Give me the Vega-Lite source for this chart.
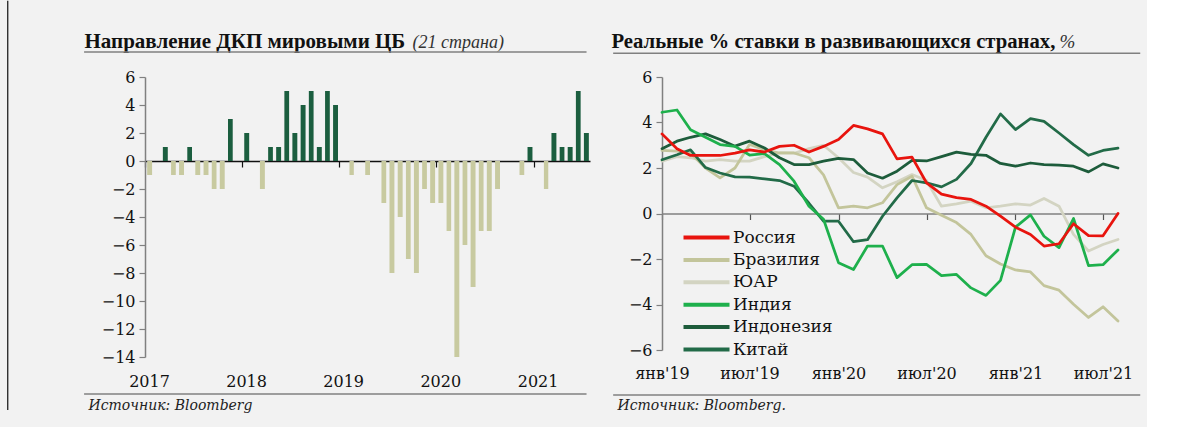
{
  "$schema": "https://vega.github.io/schema/vega-lite/v6.json",
  "background": "#f2f2f2",
  "padding": {"left": 7, "top": 0, "right": 6, "bottom": 15},
  "config": {"view": {"stroke": null}, "font": "DejaVu Serif"},
  "bounds": "flush",
  "spacing": 72,
  "hconcat": [
    {
      "width": 445,
      "height": 280,
      "layer": [
        {
          "data": {"values": [
            {"m": "2017-01-01T00:00:00", "v": -1},
            {"m": "2017-03-01T00:00:00", "v": 1},
            {"m": "2017-04-01T00:00:00", "v": -1},
            {"m": "2017-05-01T00:00:00", "v": -1},
            {"m": "2017-06-01T00:00:00", "v": 1},
            {"m": "2017-07-01T00:00:00", "v": -1},
            {"m": "2017-08-01T00:00:00", "v": -1},
            {"m": "2017-09-01T00:00:00", "v": -2},
            {"m": "2017-10-01T00:00:00", "v": -2},
            {"m": "2017-11-01T00:00:00", "v": 3},
            {"m": "2018-01-01T00:00:00", "v": 2},
            {"m": "2018-03-01T00:00:00", "v": -2},
            {"m": "2018-04-01T00:00:00", "v": 1},
            {"m": "2018-05-01T00:00:00", "v": 1},
            {"m": "2018-06-01T00:00:00", "v": 5},
            {"m": "2018-07-01T00:00:00", "v": 2},
            {"m": "2018-08-01T00:00:00", "v": 4},
            {"m": "2018-09-01T00:00:00", "v": 5},
            {"m": "2018-10-01T00:00:00", "v": 1},
            {"m": "2018-11-01T00:00:00", "v": 5},
            {"m": "2018-12-01T00:00:00", "v": 4},
            {"m": "2019-02-01T00:00:00", "v": -1},
            {"m": "2019-04-01T00:00:00", "v": -1},
            {"m": "2019-06-01T00:00:00", "v": -3},
            {"m": "2019-07-01T00:00:00", "v": -8},
            {"m": "2019-08-01T00:00:00", "v": -4},
            {"m": "2019-09-01T00:00:00", "v": -7},
            {"m": "2019-10-01T00:00:00", "v": -8},
            {"m": "2019-11-01T00:00:00", "v": -2},
            {"m": "2019-12-01T00:00:00", "v": -3},
            {"m": "2020-01-01T00:00:00", "v": -3},
            {"m": "2020-02-01T00:00:00", "v": -5},
            {"m": "2020-03-01T00:00:00", "v": -14},
            {"m": "2020-04-01T00:00:00", "v": -6},
            {"m": "2020-05-01T00:00:00", "v": -9},
            {"m": "2020-06-01T00:00:00", "v": -5},
            {"m": "2020-07-01T00:00:00", "v": -5},
            {"m": "2020-08-01T00:00:00", "v": -2},
            {"m": "2020-11-01T00:00:00", "v": -1},
            {"m": "2020-12-01T00:00:00", "v": 1},
            {"m": "2021-02-01T00:00:00", "v": -2},
            {"m": "2021-03-01T00:00:00", "v": 2},
            {"m": "2021-04-01T00:00:00", "v": 1},
            {"m": "2021-05-01T00:00:00", "v": 1},
            {"m": "2021-06-01T00:00:00", "v": 5},
            {"m": "2021-07-01T00:00:00", "v": 2}
          ]},
          "mark": {"type": "bar", "width": {"band": 0.72}},
          "encoding": {
            "x": {
              "field": "m", "type": "temporal", "timeUnit": "yearmonth",
              "scale": {"domain": [{"year": 2017, "month": 1, "date": 1}, {"year": 2021, "month": 8, "date": 1}]},
              "axis": {
                "orient": "bottom",
                "values": [{"year": 2017, "month": 1, "date": 1}, {"year": 2018, "month": 1, "date": 1}, {"year": 2019, "month": 1, "date": 1}, {"year": 2020, "month": 1, "date": 1}, {"year": 2021, "month": 1, "date": 1}],
                "format": "%Y",
                "labelOffset": 4,
                "labelPadding": 16,
                "labelFont": "DejaVu Serif",
                "labelFontSize": 16,
                "labelColor": "#111111",
                "labelFlush": false,
                "labelOverlap": false,
                "domain": false,
                "ticks": false,
                "grid": false,
                "title": "Источник: Bloomberg",
                "titleFont": "DejaVu Serif",
                "titleFontSize": 14,
                "titleFontStyle": "italic",
                "titleFontWeight": "normal",
                "titleColor": "#222222",
                "titleAlign": "left",
                "titleBaseline": "middle",
                "titleX": -57,
                "titleY": 48.5
              }
            },
            "y": {
              "field": "v", "type": "quantitative",
              "scale": {"domain": [-14, 6], "nice": false, "zero": false},
              "axis": {
                "values": [-14, -12, -10, -8, -6, -4, -2, 0, 2, 4, 6],
                "labelFont": "DejaVu Serif",
                "labelFontSize": 16,
                "labelColor": "#111111",
                "labelPadding": 4,
                "tickSize": 6,
                "tickColor": "#808080",
                "tickWidth": 1.2,
                "domainColor": "#808080",
                "domainWidth": 1.5,
                "grid": false,
                "title": "Направление ДКП мировыми ЦБ",
                "titleFont": "Liberation Serif",
                "titleFontSize": 21,
                "titleFontWeight": "bold",
                "titleColor": "#111111",
                "titleAngle": 0,
                "titleAlign": "left",
                "titleBaseline": "alphabetic",
                "titleX": -61,
                "titleY": -29.5
              }
            },
            "color": {"condition": {"test": "datum.v > 0", "value": "#1b5e3f"}, "value": "#c8caa0"}
          }
        },
        {
          "data": {"values": [{}]},
          "mark": {"type": "rule", "color": "#808080", "strokeWidth": 1.5},
          "encoding": {
            "x": {
              "datum": {"year": 2016, "month": 5, "date": 17}, "type": "temporal",
              "axis": {
                "orient": "bottom",
                "offset": -196,
                "values": [{"year": 2017, "month": 1, "date": 1}, {"year": 2018, "month": 1, "date": 1}, {"year": 2019, "month": 1, "date": 1}, {"year": 2020, "month": 1, "date": 1}, {"year": 2021, "month": 1, "date": 1}],
                "labels": false,
                "domain": true,
                "domainColor": "#111111",
                "domainWidth": 1.6,
                "ticks": true,
                "tickColor": "#111111",
                "tickSize": 6,
                "tickWidth": 1.2,
                "grid": false,
                "title": null
              }
            },
            "x2": {"datum": {"year": 2021, "month": 7, "date": 19}},
            "y": {"datum": 7.79, "type": "quantitative", "axis": null}
          }
        },
        {
          "data": {"values": [{}]},
          "mark": {"type": "rule", "color": "#808080", "strokeWidth": 1.5},
          "encoding": {
            "x": {
              "datum": {"year": 2016, "month": 5, "date": 17}, "type": "temporal",
              "axis": {
                "orient": "top",
                "labels": false,
                "domain": false,
                "ticks": false,
                "grid": false,
                "title": "(21 страна)",
                "titleFont": "Liberation Serif",
                "titleFontSize": 18,
                "titleFontStyle": "italic",
                "titleFontWeight": "normal",
                "titleColor": "#333333",
                "titleAlign": "left",
                "titleBaseline": "alphabetic",
                "titleX": 267,
                "titleY": -29.5
              }
            },
            "x2": {"datum": {"year": 2021, "month": 7, "date": 19}},
            "y": {"datum": -16.64, "type": "quantitative", "axis": null}
          }
        },
        {
          "data": {"values": [{}]},
          "mark": {"type": "rule", "color": "#111111", "strokeWidth": 1.2},
          "encoding": {
            "x": {"datum": {"year": 2015, "month": 8, "date": 4}, "type": "temporal", "axis": null},
            "y": {"datum": 11.45, "type": "quantitative", "axis": null},
            "y2": {"datum": -17.79}
          }
        }
      ],
      "resolve": {"axis": {"x": "independent", "y": "independent"}}
    },
    {
      "width": 456,
      "height": 273,
      "layer": [
        {
          "data": {"values": [
            {"d": "2019-01-01T00:00:00", "ЮАР": 2.3, "Бразилия": 2.77, "Китай": 2.36, "Индонезия": 2.85, "Индия": 4.45, "Россия": 3.5},
            {"d": "2019-02-01T00:00:00", "ЮАР": 2.5, "Бразилия": 2.74, "Китай": 2.58, "Индонезия": 3.18, "Индия": 4.55, "Россия": 2.85},
            {"d": "2019-03-01T00:00:00", "ЮАР": 2.45, "Бразилия": 2.66, "Китай": 2.8, "Индонезия": 3.35, "Индия": 3.68, "Россия": 2.55},
            {"d": "2019-04-01T00:00:00", "ЮАР": 2.3, "Бразилия": 2.0, "Китай": 2.02, "Индонезия": 3.5, "Индия": 3.35, "Россия": 2.55},
            {"d": "2019-05-01T00:00:00", "ЮАР": 2.37, "Бразилия": 1.57, "Китай": 1.78, "Индонезия": 3.25, "Индия": 3.03, "Россия": 2.55},
            {"d": "2019-06-01T00:00:00", "ЮАР": 2.3, "Бразилия": 2.0, "Китай": 1.61, "Индонезия": 2.96, "Индия": 2.95, "Россия": 2.65},
            {"d": "2019-07-01T00:00:00", "ЮАР": 2.3, "Бразилия": 3.03, "Китай": 1.6, "Индонезия": 3.18, "Индия": 2.57, "Россия": 2.8},
            {"d": "2019-08-01T00:00:00", "ЮАР": 2.5, "Бразилия": 2.8, "Китай": 1.52, "Индонезия": 2.88, "Индия": 2.63, "Россия": 2.7},
            {"d": "2019-09-01T00:00:00", "ЮАР": 2.66, "Бразилия": 2.66, "Китай": 1.45, "Индонезия": 2.45, "Индия": 2.15, "Россия": 2.95},
            {"d": "2019-10-01T00:00:00", "ЮАР": 2.65, "Бразилия": 2.66, "Китай": 1.2, "Индонезия": 2.15, "Индия": 1.42, "Россия": 3.0},
            {"d": "2019-11-01T00:00:00", "ЮАР": 2.85, "Бразилия": 2.45, "Китай": 0.45, "Индонезия": 2.15, "Индия": 0.32, "Россия": 2.7},
            {"d": "2019-12-01T00:00:00", "ЮАР": 3.0, "Бразилия": 1.7, "Китай": -0.34, "Индонезия": 2.3, "Индия": -0.25, "Россия": 2.95},
            {"d": "2020-01-01T00:00:00", "ЮАР": 2.45, "Бразилия": 0.25, "Китай": -0.34, "Индонезия": 2.42, "Индия": -2.16, "Россия": 3.25},
            {"d": "2020-02-01T00:00:00", "ЮАР": 1.8, "Бразилия": 0.32, "Китай": -1.24, "Индонезия": 2.37, "Индия": -2.46, "Россия": 3.87},
            {"d": "2020-03-01T00:00:00", "ЮАР": 1.6, "Бразилия": 0.25, "Китай": -1.15, "Индонезия": 1.78, "Индия": -1.43, "Россия": 3.72},
            {"d": "2020-04-01T00:00:00", "ЮАР": 1.13, "Бразилия": 0.47, "Китай": -0.12, "Индонезия": 1.55, "Индия": -1.43, "Россия": 3.5},
            {"d": "2020-05-01T00:00:00", "ЮАР": 1.4, "Бразилия": 1.27, "Китай": 0.69, "Индонезия": 1.86, "Индия": -2.82, "Россия": 2.4},
            {"d": "2020-06-01T00:00:00", "ЮАР": 1.71, "Бразилия": 1.64, "Китай": 1.45, "Индонезия": 2.33, "Индия": -2.25, "Россия": 2.48},
            {"d": "2020-07-01T00:00:00", "ЮАР": 1.45, "Бразилия": 0.25, "Китай": 1.35, "Индонезия": 2.31, "Индия": -2.24, "Россия": 1.35},
            {"d": "2020-08-01T00:00:00", "ЮАР": 0.32, "Бразилия": -0.08, "Китай": 1.17, "Индонезия": 2.5, "Индия": -2.73, "Россия": 0.85},
            {"d": "2020-09-01T00:00:00", "ЮАР": 0.42, "Бразилия": -0.4, "Китай": 1.5, "Индонезия": 2.7, "Индия": -2.68, "Россия": 0.7},
            {"d": "2020-10-01T00:00:00", "ЮАР": 0.54, "Бразилия": -0.92, "Китай": 2.2, "Индонезия": 2.6, "Индия": -3.27, "Россия": 0.62},
            {"d": "2020-11-01T00:00:00", "ЮАР": 0.25, "Бразилия": -1.86, "Китай": 3.35, "Индонезия": 2.56, "Индия": -3.6, "Россия": 0.32},
            {"d": "2020-12-01T00:00:00", "ЮАР": 0.32, "Бразилия": -2.22, "Китай": 4.38, "Индонезия": 2.2, "Индия": -2.94, "Россия": -0.12},
            {"d": "2021-01-01T00:00:00", "ЮАР": 0.42, "Бразилия": -2.48, "Китай": 3.69, "Индонезия": 2.08, "Индия": -0.6, "Россия": -0.6},
            {"d": "2021-02-01T00:00:00", "ЮАР": 0.37, "Бразилия": -2.57, "Китай": 4.17, "Индонезия": 2.22, "Индия": -0.06, "Россия": -0.92},
            {"d": "2021-03-01T00:00:00", "ЮАР": 0.66, "Бразилия": -3.17, "Китай": 4.05, "Индонезия": 2.15, "Индия": -1.0, "Россия": -1.43},
            {"d": "2021-04-01T00:00:00", "ЮАР": 0.32, "Бразилия": -3.37, "Китай": 3.54, "Индонезия": 2.13, "Индия": -1.5, "Россия": -1.33},
            {"d": "2021-05-01T00:00:00", "ЮАР": -0.92, "Бразилия": -3.99, "Китай": 3.03, "Индонезия": 2.08, "Индия": -0.22, "Россия": -0.45},
            {"d": "2021-06-01T00:00:00", "ЮАР": -1.65, "Бразилия": -4.57, "Китай": 2.56, "Индонезия": 1.83, "Индия": -2.29, "Россия": -0.97},
            {"d": "2021-07-01T00:00:00", "ЮАР": -1.36, "Бразилия": -4.1, "Китай": 2.77, "Индонезия": 2.18, "Индия": -2.25, "Россия": -0.98},
            {"d": "2021-08-01T00:00:00", "ЮАР": -1.14, "Бразилия": -4.73, "Китай": 2.87, "Индонезия": 2.0, "Индия": -1.6, "Россия": 0.0}
          ]},
          "transform": [{"fold": ["ЮАР", "Бразилия", "Китай", "Индонезия", "Индия", "Россия"], "as": ["s", "v"]}],
          "mark": {"type": "line", "strokeWidth": 2.75, "strokeJoin": "round", "strokeCap": "round"},
          "encoding": {
            "x": {
              "field": "d", "type": "temporal",
              "scale": {"domain": [{"year": 2019, "month": 1, "date": 1}, {"year": 2021, "month": 8, "date": 1}]},
              "axis": {
                "orient": "bottom",
                "values": [{"year": 2019, "month": 1, "date": 1}, {"year": 2019, "month": 7, "date": 1}, {"year": 2020, "month": 1, "date": 1}, {"year": 2020, "month": 7, "date": 1}, {"year": 2021, "month": 1, "date": 1}, {"year": 2021, "month": 7, "date": 1}],
                "labelExpr": "(month(datum.value) == 0 ? 'янв' : 'июл') + \"'\" + timeFormat(datum.value, '%y')",
                "labelPadding": 15,
                "labelFont": "DejaVu Serif",
                "labelFontSize": 16,
                "labelColor": "#111111",
                "labelFlush": false,
                "labelOverlap": false,
                "domain": false,
                "ticks": false,
                "grid": false,
                "title": "Источник: Bloomberg.",
                "titleFont": "DejaVu Serif",
                "titleFontSize": 14,
                "titleFontStyle": "italic",
                "titleFontWeight": "normal",
                "titleColor": "#222222",
                "titleAlign": "left",
                "titleBaseline": "middle",
                "titleX": -45,
                "titleY": 55.5
              }
            },
            "y": {
              "field": "v", "type": "quantitative",
              "scale": {"domain": [-6, 6], "nice": false, "zero": false},
              "axis": {
                "values": [-6, -4, -2, 0, 2, 4, 6],
                "labelFont": "DejaVu Serif",
                "labelFontSize": 16,
                "labelColor": "#111111",
                "labelPadding": 4,
                "tickSize": 6,
                "tickColor": "#808080",
                "tickWidth": 1.2,
                "domainColor": "#808080",
                "domainWidth": 1.5,
                "grid": false,
                "title": "Реальные % ставки в развивающихся странах,",
                "titleFont": "Liberation Serif",
                "titleFontSize": 20.7,
                "titleFontWeight": "bold",
                "titleColor": "#111111",
                "titleAngle": 0,
                "titleAlign": "left",
                "titleBaseline": "alphabetic",
                "titleX": -51,
                "titleY": -29.5
              }
            },
            "color": {
              "field": "s", "type": "nominal",
              "scale": {
                "domain": ["Россия", "Бразилия", "ЮАР", "Индия", "Индонезия", "Китай"],
                "range": ["#e8140e", "#c3c59b", "#d3d4c2", "#1eb04c", "#1d5c3b", "#226b48"]
              },
              "legend": {
                "orient": "none",
                "legendX": 553,
                "legendY": 152,
                "title": null,
                "padding": 0,
                "direction": "vertical",
                "symbolType": "M-4,0H4",
                "symbolSize": 132.25,
                "symbolStrokeWidth": 4,
                "labelFont": "DejaVu Serif",
                "labelFontSize": 17,
                "labelColor": "#111111",
                "labelOffset": 18,
                "rowPadding": 4.4
              }
            }
          }
        },
        {
          "data": {"values": [{}]},
          "mark": {"type": "rule", "color": "#808080", "strokeWidth": 1.5},
          "encoding": {
            "x": {
              "datum": {"year": 2018, "month": 9, "date": 22}, "type": "temporal",
              "axis": {
                "orient": "bottom",
                "offset": -136.5,
                "values": [{"year": 2019, "month": 1, "date": 1}, {"year": 2019, "month": 7, "date": 1}, {"year": 2020, "month": 1, "date": 1}, {"year": 2020, "month": 7, "date": 1}, {"year": 2021, "month": 1, "date": 1}, {"year": 2021, "month": 7, "date": 1}],
                "labels": false,
                "domain": true,
                "domainColor": "#808080",
                "domainWidth": 1.6,
                "ticks": true,
                "tickColor": "#555555",
                "tickSize": 6,
                "tickWidth": 1.2,
                "grid": false,
                "title": null
              }
            },
            "x2": {"datum": {"year": 2021, "month": 9, "date": 16}},
            "y": {"datum": 7.04, "type": "quantitative", "axis": null}
          }
        },
        {
          "data": {"values": [{}]},
          "mark": {"type": "rule", "color": "#808080", "strokeWidth": 1.5},
          "encoding": {
            "x": {
              "datum": {"year": 2018, "month": 9, "date": 22}, "type": "temporal",
              "axis": {
                "orient": "top",
                "labels": false,
                "domain": false,
                "ticks": false,
                "grid": false,
                "title": "%",
                "titleFont": "Liberation Serif",
                "titleFontSize": 19,
                "titleFontStyle": "italic",
                "titleFontWeight": "normal",
                "titleColor": "#333333",
                "titleAlign": "left",
                "titleBaseline": "alphabetic",
                "titleX": 397,
                "titleY": -29.5
              }
            },
            "x2": {"datum": {"year": 2021, "month": 9, "date": 16}},
            "y": {"datum": -7.98, "type": "quantitative", "axis": null}
          }
        }
      ],
      "resolve": {"axis": {"x": "independent", "y": "independent"}}
    }
  ]
}
